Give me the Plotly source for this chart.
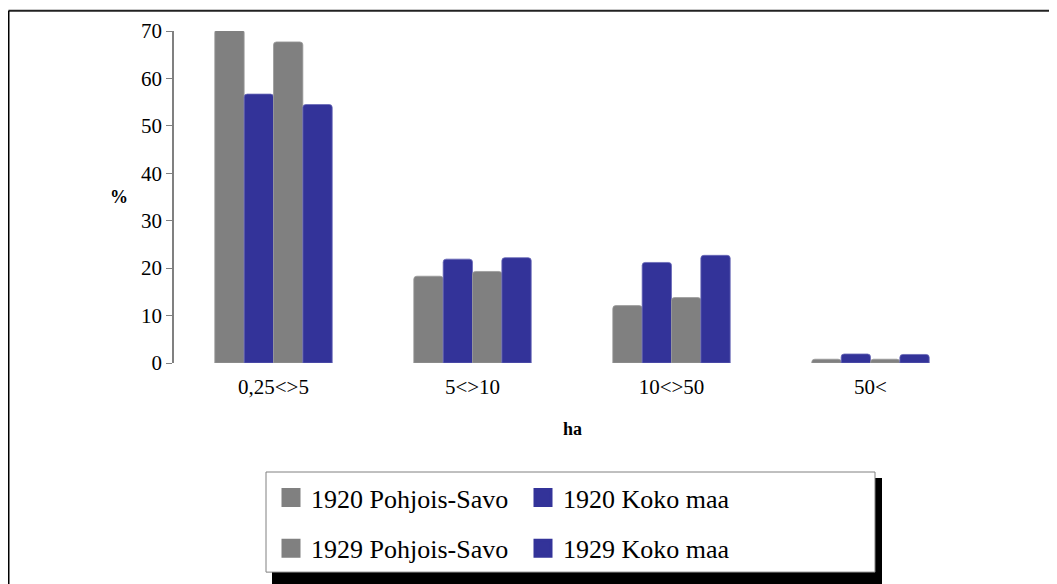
import plotly.graph_objects as go

# ---- data ----
categories = ["0,25<>5", "5<>10", "10<>50", "50<"]
ps_1920 = [70.3, 18.3, 12.1, 0.8]
km_1920 = [56.7, 21.9, 21.2, 1.9]
ps_1929 = [67.7, 19.3, 13.8, 0.8]
km_1929 = [54.5, 22.2, 22.7, 1.8]
series_names = ["1920 Pohjois-Savo", "1920 Koko maa", "1929 Pohjois-Savo", "1929 Koko maa"]
y_ticks = [0, 10, 20, 30, 40, 50, 60, 70]

GRAY = "#808080"
BLUE = "#333399"
FONT = "Liberation Serif"

labels = [c.replace("<", "&lt;").replace(">", "&gt;") for c in categories]
series = [ps_1920, km_1920, ps_1929, km_1929]
colors = [GRAY, BLUE, GRAY, BLUE]
edge = ["#9a9a9a", "#6a6ab8", "#9a9a9a", "#6a6ab8"]

fig = go.Figure()
for name, vals, col, ec in zip(series_names, series, colors, edge):
    fig.add_trace(go.Bar(
        x=labels, y=vals, name=name, showlegend=False,
        marker=dict(color=col, cornerradius=3, line=dict(color=ec, width=0.8)),
    ))

# legend entries (two columns)
legend_of = ["legend", "legend2", "legend", "legend2"]
for i, (name, col) in enumerate(zip(series_names, colors)):
    fig.add_trace(go.Scatter(
        x=[None], y=[None], mode="markers", name=name,
        legend=legend_of[i], legendgroup="g%d" % i,
        marker=dict(symbol="square", size=16, color=col, line=dict(color=col, width=3)),
        hoverinfo="skip",
    ))

# page body has an 8px margin: work in page pixels, shift into figure pixels
OFF = 8
W, H = 1057 - OFF, 584 - OFF
L, R, T, B = 174 - OFF, 970 - OFF, 31 - OFF, 366 - OFF
pw, ph = R - L, B - T

def px(x):
    return (x - OFF - L) / pw

def py(y):
    return (B - (y - OFF)) / ph

shapes = [
    # outer frame (left and top edges visible)
    dict(type="line", xref="paper", yref="paper", x0=px(8.5), x1=px(1070), y0=py(10.5), y1=py(10.5),
         line=dict(color="#222222", width=2)),
    dict(type="line", xref="paper", yref="paper", x0=px(8.5), x1=px(8.5), y0=py(10.5), y1=py(600),
         line=dict(color="#000000", width=2)),
    # legend shadow
    dict(type="rect", xref="paper", yref="paper", x0=px(272), x1=px(882), y0=py(482), y1=py(600),
         line=dict(width=0), fillcolor="#000000"),
    # legend box
    dict(type="rect", xref="paper", yref="paper", x0=px(266), x1=px(875), y0=py(476), y1=py(577),
         line=dict(color="#808080", width=1), fillcolor="#ffffff"),
]

annotations = [
    dict(text="<b>%</b>", xref="paper", yref="paper", x=px(119), y=py(198), showarrow=False,
         xanchor="center", yanchor="middle", font=dict(family=FONT, size=18, color="black")),
    dict(text="<b>ha</b>", xref="paper", yref="paper", x=px(572), y=py(433), showarrow=False,
         xanchor="center", yanchor="middle", font=dict(family=FONT, size=18, color="black")),
]

leg_common = dict(
    orientation="v", bgcolor="rgba(0,0,0,0)", borderwidth=0, tracegroupgap=14,
    font=dict(family=FONT, size=26, color="black"), yanchor="top", xanchor="left",
)

fig.update_layout(
    width=W, height=H,
    margin=dict(l=L, r=W - R, t=T, b=H - B),
    paper_bgcolor="white", plot_bgcolor="white",
    barmode="group", bargap=0.41, bargroupgap=0,
    font=dict(family=FONT, size=21, color="black"),
    xaxis=dict(showline=False, ticks="", showgrid=False, zeroline=False,
               tickfont=dict(family=FONT, size=21, color="black"), ticklabelstandoff=9),
    yaxis=dict(range=[0, 70], tickvals=y_ticks, showline=True, linecolor="#808080", linewidth=1.5,
               ticks="outside", ticklen=6, tickcolor="#808080", tickwidth=1.2,
               showgrid=False, zeroline=False,
               tickfont=dict(family=FONT, size=21, color="black")),
    legend=dict(x=px(271), y=py(478), **leg_common),
    legend2=dict(x=px(523), y=py(478), **leg_common),
    shapes=shapes,
    annotations=annotations,
    showlegend=True,
)

fig.write_html("out.html")
